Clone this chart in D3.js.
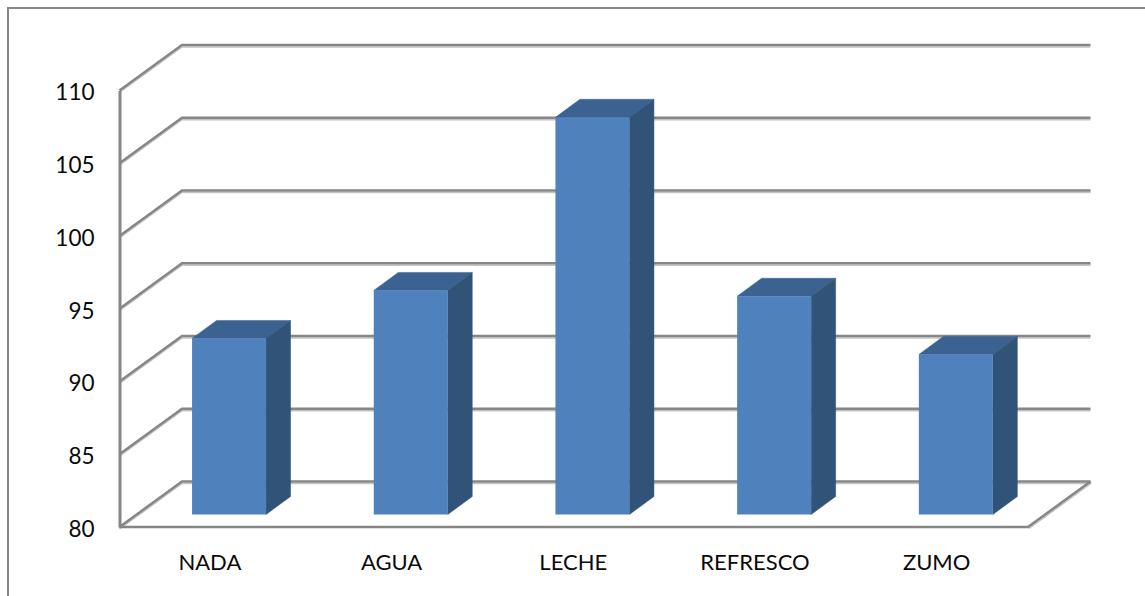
<!DOCTYPE html>
<html><head><meta charset="utf-8">
<script src="https://cdnjs.cloudflare.com/ajax/libs/d3/7.8.5/d3.min.js"></script>
<style>html,body{margin:0;padding:0;background:#fff}svg{display:block}text{font-family:Lato,"Open Sans",sans-serif;fill:#0a0a0a}</style>
</head><body><svg id="c" width="1145" height="596"></svg>
<script>
const categories=["NADA","AGUA","LECHE","REFRESCO","ZUMO"];
const values=[92.1,95.4,107.3,95,91];
const tickValues=[80,85,90,95,100,105,110];

const svg=d3.select("#c");
const grid="#868686",shadow="#c4c4c4";
const wallDx=62.5,wallDy=-45.5,barDx=24.5,barDy=-18,barLift=13;
const y=d3.scaleLinear().domain([80,110]).range([527,90.5]);
const x=d3.scaleBand().domain(categories).range([119.5,1028]);
const barW=74,barShift=18.7;

// frame
svg.append("path").attr("d","M8,596V8H1145").attr("fill","none").attr("stroke",grid).attr("stroke-width",2);

// gridlines: shadow, side wall diagonal, back wall
const gl=svg.append("g").attr("fill","none");
const wallPath=v=>`M${x.range()[0]},${y(v)}L${x.range()[0]+wallDx},${y(v)+wallDy}H${x.range()[1]+wallDx}`;
gl.selectAll("path.s").data(tickValues).join("path").attr("class","s")
  .attr("d",v=>wallPath(v)).attr("transform","translate(0,2)").attr("stroke",shadow).attr("stroke-width",1.5);
gl.selectAll("path.g").data(tickValues).join("path").attr("class","g")
  .attr("d",wallPath).attr("stroke",grid).attr("stroke-width",2.5);
// floor
gl.append("path").attr("d",`M${x.range()[1]},${y(80)}L${x.range()[1]+wallDx},${y(80)+wallDy}`).attr("stroke",shadow).attr("stroke-width",1.5).attr("transform","translate(1,1.5)");
gl.append("path").attr("d",`M${x.range()[0]},${y(80)}H${x.range()[1]}L${x.range()[1]+wallDx},${y(80)+wallDy}`).attr("stroke",grid).attr("stroke-width",2.5);

// axes via d3
const ax=svg.append("g").attr("transform",`translate(${x.range()[0]},0)`)
  .call(d3.axisLeft(y).tickValues(tickValues).tickSize(0).tickPadding(25).tickFormat(d3.format("d")));
ax.select(".domain").attr("stroke",grid).attr("stroke-width",3);
ax.selectAll("text").attr("font-size",22.5).attr("dy","0.42em").style("font-family","Lato,sans-serif");
const bx=svg.append("g").attr("transform",`translate(-0.5,${y(80)})`)
  .call(d3.axisBottom(x).tickSize(0).tickPadding(27));
bx.select(".domain").remove();
bx.selectAll("text").attr("font-size",22).style("font-family","Lato,sans-serif");

// bars
const bars=svg.append("g").selectAll("g").data(categories.map((c,i)=>({c,v:values[i]}))).join("g");
const L=d=>x(d.c)+x.bandwidth()/2+barShift-barW/2, R=d=>L(d)+barW;
const T=d=>y(d.v)-barLift+0.5, B=()=>y(80)-barLift+0.5;
bars.append("path").attr("fill","#3b6290").attr("stroke","#3b6290").attr("stroke-width",0.5).attr("d",d=>`M${L(d)},${T(d)}l${barDx},${barDy}H${R(d)+barDx}L${R(d)},${T(d)}Z`);
bars.append("path").attr("fill","#325378").attr("stroke","#325378").attr("stroke-width",0.5).attr("d",d=>`M${R(d)},${T(d)}l${barDx},${barDy}V${B()+barDy}L${R(d)},${B()}Z`);
bars.append("rect").attr("fill","#4f81bd").attr("x",L).attr("y",T).attr("width",barW).attr("height",d=>B()-T(d));
</script></body></html>
